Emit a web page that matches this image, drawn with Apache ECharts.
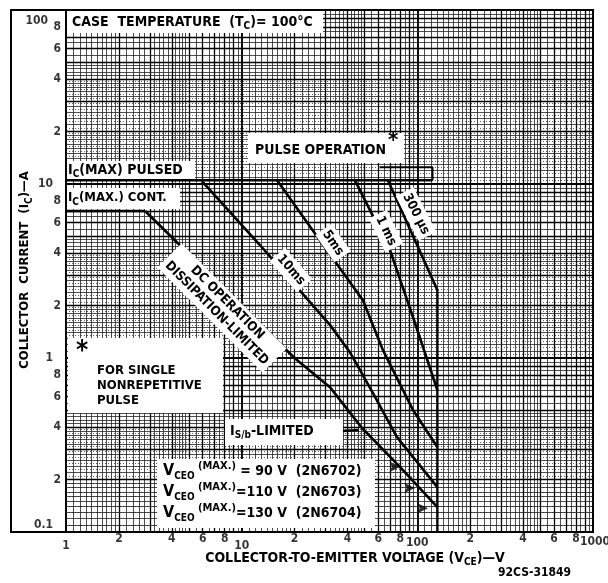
<!DOCTYPE html>
<html><head><meta charset="utf-8">
<script src="https://cdn.jsdelivr.net/npm/echarts@6/dist/echarts.min.js"></script>
<style>html,body{margin:0;padding:0;background:#fff}#c{width:608px;height:583px}</style>
</head><body><div id="c"></div>
<script>
// ---- tick labels ----
const xTickValues = [1, 2, 4, 6, 8, 10, 20, 40, 60, 80, 100, 200, 400, 600, 800, 1000];
const xTickLabels = ['1','2','4','6','8','10','2','4','6','8','100','2','4','6','8','1000'];
const yTickValues = [0.1, 0.2, 0.4, 0.6, 0.8, 1, 2, 4, 6, 8, 10, 20, 40, 60, 80, 100];
const yTickLabels = ['0.1','2','4','6','8','1','2','4','6','8','10','2','4','6','8','100'];

// ---- graph-paper rulings ----
const gridDecadesX = [1, 10, 100];
const gridDecadesY = [0.1, 1, 10];
const gridMajorMantissas = [1, 2, 3, 4, 5, 6, 7, 8, 9];
const gridMinorMantissas = [1.1,1.2,1.3,1.4,1.5,1.6,1.7,1.8,1.9,2.2,2.4,2.6,2.8,3.2,3.4,3.6,3.8,4.2,4.4,4.6,4.8,5.5,6.5,7.5,8.5,9.5];
const gridDottedMantissas = [1.05,1.15,1.25,1.35,1.45,1.55,1.65,1.75,1.85,1.95,2.1,2.3,2.5,2.7,2.9,3.1,3.3,3.5,3.7,3.9];

// ---- curves: [V_CE (V), I_C (A)] ----
const icPulsed = [[1, 10.5], [122, 10.5]];
const pulseBracket = [[61, 12.5], [122, 12.5], [122, 10.5]];
const icCont = [[1, 7.0], [2.82, 7.0]];
const dcLine = [[2.82, 7.0], [20, 1.0], [31.8, 0.68], [48.4, 0.396], [79.6, 0.237], [130, 0.139]];
const ms10 = [[5.94, 10.4], [12.7, 4.46], [31.8, 1.55], [41.3, 1.08], [55.9, 0.629], [76.6, 0.351], [130, 0.181]];
const ms5 = [[15.9, 10.5], [28.5, 4.6], [49.0, 2.15], [63.7, 1.11], [94.4, 0.503], [130, 0.308]];
const ms1 = [[44.2, 10.5], [69.8, 4.18], [94.4, 1.72], [130, 0.655]];
const us300 = [[68.0, 10.5], [130, 2.46]];
const vceoLimit = [[130, 2.46], [130, 0.1]];
const vceoMarks = [[80, 0.237], [97, 0.179], [115, 0.137]];

const F = '"DejaVu Sans Condensed", "DejaVu Sans", sans-serif';
const rot = d => -d * Math.PI / 180;

function rulings(key, decades, dotted) {
  const out = [];
  decades.forEach(d => {
    if (dotted) gridDottedMantissas.forEach(m => out.push({ [key]: m * d, lineStyle: { color: '#333', width: 0.8, type: [1, 2] } }));
    gridMinorMantissas.forEach(m => out.push({ [key]: m * d, lineStyle: { color: '#222', width: 0.8, type: 'solid' } }));
    gridMajorMantissas.forEach(m => out.push({ [key]: m * d, lineStyle: { color: '#000', width: m === 1 ? 1.9 : 1.3, type: 'solid' } }));
  });
  return out;
}

function curve(name, data, w) {
  return { name, type: 'line', data, z: 10, symbol: 'none', silent: true, animation: false,
    lineStyle: { color: '#000', width: w || 2.6 } };
}

const sub = { fontSize: 10, fontFamily: F, fontWeight: 'bold', verticalAlign: 'bottom', lineHeight: 10 };
function txt(x, y, text, o) {
  o = o || {};
  return { type: 'text', z: 101, x, y, rotation: o.rotation || 0,
    style: Object.assign({ text, fill: '#000', fontFamily: F, fontWeight: 'bold', fontSize: o.fs || 13,
      textAlign: o.align || 'left', align: o.align || 'left', textVerticalAlign: 'middle', verticalAlign: 'middle',
      lineHeight: o.lh || 18, rich: { s: sub, big: { fontSize: 16, fontFamily: F, fontWeight: 'bold' }, m: { fontSize: 11, fontFamily: F, fontWeight: 'bold', verticalAlign: 'top', lineHeight: 11 } } },
      o.extra || {}) };
}
function box(x, y, w, h) {
  return { type: 'rect', z: 100, shape: { x, y, width: w, height: h }, style: { fill: '#fff' } };
}

const chart = echarts.init(document.getElementById('c'), null, { renderer: 'canvas' });
chart.setOption({
  animation: false,
  backgroundColor: '#fff',
  grid: { left: 66, right: 15, top: 10, bottom: 51, show: true, borderColor: '#000', borderWidth: 2, containLabel: false },
  xAxis: { type: 'log', logBase: 10, min: 1, max: 1000, axisLabel: { show: false }, axisTick: { show: false },
    splitLine: { show: false }, axisLine: { show: true, lineStyle: { color: '#000', width: 2 } } },
  yAxis: { type: 'log', logBase: 10, min: 0.1, max: 100, axisLabel: { show: false }, axisTick: { show: false },
    splitLine: { show: false }, axisLine: { show: true, lineStyle: { color: '#000', width: 2 } } },
  series: [
    { type: 'line', data: [[1, 0.1]], symbol: 'none', silent: true, z: 1, lineStyle: { width: 0 },
      markLine: { z: 1, silent: true, symbol: 'none', animation: false, label: { show: false },
        emphasis: { disabled: true },
        data: rulings('xAxis', gridDecadesX, false).concat(rulings('yAxis', gridDecadesY, true)) } },
    curve('pulsed', icPulsed), curve('bracket', pulseBracket, 2), curve('cont', icCont),
    curve('dc', dcLine), curve('10ms', ms10), curve('5ms', ms5), curve('1ms', ms1), curve('300us', us300),
    curve('vceo', vceoLimit, 2.4),
    { type: 'scatter', data: vceoMarks, z: 12, silent: true, symbol: 'arrow', symbolRotate: -90, symbolSize: [8, 11],
      itemStyle: { color: '#000' } },
    { type: 'scatter', z: 20, silent: true, symbolSize: 0, clip: false,
      data: xTickValues.map((v, i) => {
        const t = xTickLabels[i];
        const dec = t === '1' || t === '10';
        const item = { value: [v, 0.1], label: { formatter: t, distance: dec ? 8 : 1 } };
        if (t === '100') item.label.distance = 5;
        if (t === '1000') { item.label.distance = 4; item.label.offset = [2, 0]; }
        return item;
      }),
      label: { show: true, position: 'bottom', color: '#000', fontFamily: F, fontWeight: 'bold', fontSize: 12 } },
    { type: 'scatter', z: 20, silent: true, symbolSize: 0, clip: false,
      data: yTickValues.map((v, i) => {
        const t = yTickLabels[i];
        const dec = t.length > 1 || t === '1';
        const item = { value: [1, v], label: { formatter: t, distance: dec ? 13 : 5 } };
        if (t === '0.1') item.label.offset = [0, -7];
        if (t === '100') { item.label.offset = [0, 11]; item.label.distance = 18; }
        return item;
      }),
      label: { show: true, position: 'left', color: '#000', fontFamily: F, fontWeight: 'bold', fontSize: 12 } }
  ],
  graphic: { elements: [
    { type: 'polyline', z: 99, shape: { points: [[66, 10], [11, 10], [11, 532], [66, 532]] },
      style: { stroke: '#000', lineWidth: 2, fill: null } },
    box(67, 11, 256, 22),
    txt(72, 22, 'CASE  TEMPERATURE  (T{s|C})= 100°C', { fs: 14 }),
    box(67, 161, 128, 18),
    txt(68, 170, 'I{s|C}(MAX) PULSED', { fs: 14 }),
    box(67, 188, 113, 21),
    txt(68, 198, 'I{s|C}(MAX.) CONT.', { fs: 13 }),
    box(248, 133, 156, 30),
    txt(255, 150, 'PULSE OPERATION', { fs: 14 }),
    txt(388, 141, '*', { fs: 22 }),
    txt(291, 270, '10ms', { fs: 13, align: 'center', rotation: rot(49), extra: { backgroundColor: '#fff', padding: [1, 3] } }),
    txt(333, 243, '5ms', { fs: 13, align: 'center', rotation: rot(55), extra: { backgroundColor: '#fff', padding: [1, 3] } }),
    txt(386, 231, '1 ms', { fs: 13, align: 'center', rotation: rot(64), extra: { backgroundColor: '#fff', padding: [1, 3] } }),
    txt(416, 214, '300 µs', { fs: 13, align: 'center', rotation: rot(63), extra: { backgroundColor: '#fff', padding: [1, 3] } }),
    txt(222, 308, 'DC OPERATION\nDISSIPATION-LIMITED', { fs: 13, lh: 15, align: 'center', rotation: rot(45), extra: { backgroundColor: '#fff', padding: [2, 4] } }),
    box(68, 338, 155, 75),
    txt(76, 352, '*', { fs: 26 }),
    txt(97, 386, 'FOR SINGLE\nNONREPETITIVE\nPULSE', { fs: 13, lh: 15 }),
    box(225, 419, 118, 26),
    txt(230, 431, 'I{s|S/b}-LIMITED', { fs: 14 }),
    { type: 'line', z: 101, shape: { x1: 343, y1: 431, x2: 359, y2: 430 }, style: { stroke: '#000', lineWidth: 2.5 } },
    box(157, 459, 218, 69),
    txt(163, 471, '{big|V}{s|CEO}{m| (MAX.)} = 90 V  (2N6702)', { fs: 14, lh: 20 }),
    txt(163, 492, '{big|V}{s|CEO}{m| (MAX.)}=110 V  (2N6703)', { fs: 14, lh: 20 }),
    txt(163, 513, '{big|V}{s|CEO}{m| (MAX.)}=130 V  (2N6704)', { fs: 14, lh: 20 }),
    txt(25, 270, 'COLLECTOR  CURRENT  (I{s|C})—A', { fs: 13, align: 'center', rotation: Math.PI / 2 }),
    txt(355, 558, 'COLLECTOR-TO-EMITTER VOLTAGE (V{s|CE})—V', { fs: 14, align: 'center' }),
    txt(498, 573, '92CS-31849', { fs: 12 })
  ] }
});
</script></body></html>
